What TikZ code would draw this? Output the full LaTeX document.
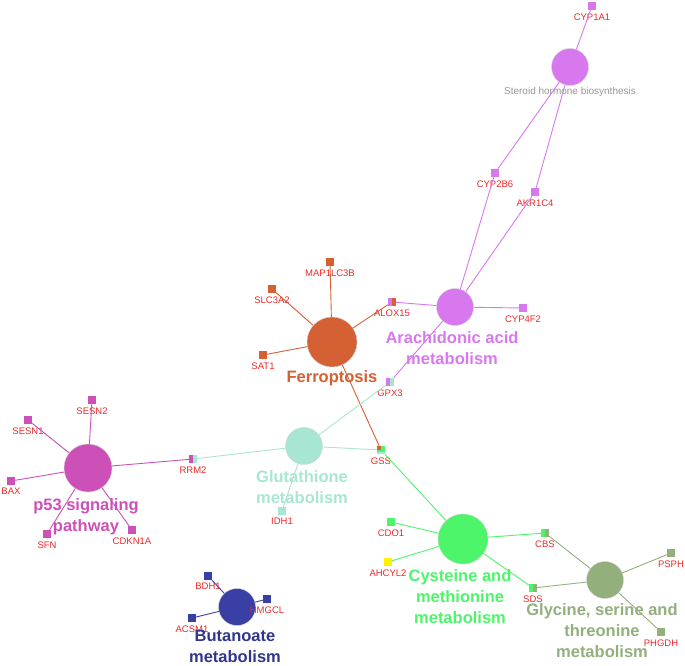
\documentclass[tikz,border=0pt]{standalone}
\usepackage{fontspec}
\setmainfont{Liberation Sans}
\usetikzlibrary{positioning}
\definecolor{violetpw}{RGB}{216,120,238}
\definecolor{orangepw}{RGB}{212,96,52}
\definecolor{magentapw}{RGB}{204,80,184}
\definecolor{tealpw}{RGB}{168,230,212}
\definecolor{greenpw}{RGB}{76,245,106}
\definecolor{olivepw}{RGB}{146,175,124}
\definecolor{bluepw}{RGB}{58,63,165}
\definecolor{genered}{RGB}{238,40,40}
\definecolor{steroidgray}{RGB}{150,150,150}

\begin{document}
\begin{tikzpicture}[x=1pt, y=-1pt, label distance=3pt,
    pathway/.style={circle, draw=gray!35, line width=0.4pt, inner sep=0pt},
    genelabel/.style={font=\fontsize{9.5}{10}\selectfont, text=genered, inner sep=0pt},
    gene/.style={rectangle, minimum size=8pt, inner sep=0pt, label={[genelabel]below:#1}},
    pwlabel/.style={font=\fontsize{16.5}{21}\selectfont\bfseries, align=center, inner sep=0pt},
    link/.style={line width=0.9pt},
    split/.style 2 args={path picture={
        \fill[#1] (path picture bounding box.south west) rectangle (path picture bounding box.north);
        \fill[#2] (path picture bounding box.south) rectangle (path picture bounding box.north east);}}]
    \useasboundingbox (0,0) rectangle (685,665);

    % Pathways
    \node[pathway, fill=violetpw, minimum size=37pt] (steroid) at (570,67) {};
    \node[pathway, fill=violetpw, minimum size=37pt] (arach) at (455,307) {};
    \node[pathway, fill=orangepw, minimum size=50pt] (ferro) at (332,342) {};
    \node[pathway, fill=magentapw, minimum size=48pt] (p53) at (88,468) {};
    \node[pathway, fill=tealpw, minimum size=37pt] (gluta) at (304,446) {};
    \node[pathway, fill=greenpw, minimum size=50pt] (cyst) at (463,539) {};
    \node[pathway, fill=olivepw, minimum size=37pt] (glyc) at (605,580) {};
    \node[pathway, fill=bluepw, minimum size=37pt] (butan) at (237,607) {};

    % Genes
    \node[gene=CYP1A1, fill=violetpw] (cyp1a1) at (592,6) {};
    \node[gene=CYP2B6, fill=violetpw] (cyp2b6) at (495,173) {};
    \node[gene=AKR1C4, fill=violetpw] (akr1c4) at (535,192) {};
    \node[gene=CYP4F2, fill=violetpw] (cyp4f2) at (523,308) {};
    \node[gene=ALOX15, split={violetpw}{orangepw}] (alox15) at (392,302) {};
    \node[gene=GPX3, split={violetpw}{tealpw}] (gpx3) at (390,382) {};
    \node[gene=MAP1LC3B, fill=orangepw] (map1lc3b) at (330,262) {};
    \node[gene=SLC3A2, fill=orangepw] (slc3a2) at (272,289) {};
    \node[gene=SAT1, fill=orangepw] (sat1) at (263,355) {};
    \node[gene=GSS, path picture={
        \fill[greenpw] (path picture bounding box.south west) rectangle (path picture bounding box.north east);
        \fill[orangepw] (path picture bounding box.north west) rectangle (path picture bounding box.center);
        \fill[tealpw] (path picture bounding box.south west) rectangle ([yshift=2.5pt]path picture bounding box.south east);}] (gss) at (381,450) {};
    \node[gene=SESN1, fill=magentapw] (sesn1) at (28,420) {};
    \node[gene=SESN2, fill=magentapw] (sesn2) at (92,400) {};
    \node[gene=BAX, fill=magentapw] (bax) at (11,481) {};
    \node[gene=SFN, fill=magentapw] (sfn) at (47,534) {};
    \node[gene=CDKN1A, fill=magentapw] (cdkn1a) at (132,530) {};
    \node[gene=RRM2, split={magentapw}{tealpw}] (rrm2) at (193,459) {};
    \node[gene=IDH1, fill=tealpw] (idh1) at (282,511) {};
    \node[gene=CDO1, fill=greenpw] (cdo1) at (391,522) {};
    \node[gene=AHCYL2, fill=yellow] (ahcyl2) at (388,562) {};
    \node[gene=CBS, split={greenpw}{olivepw}] (cbs) at (545,533) {};
    \node[gene=SDS, split={greenpw}{olivepw}] (sds) at (533,588) {};
    \node[gene=PSPH, fill=olivepw] (psph) at (671,553) {};
    \node[gene=PHGDH, fill=olivepw] (phgdh) at (661,632) {};
    \node[gene=BDH1, fill=bluepw] (bdh1) at (208,576) {};
    \node[gene=HMGCL, fill=bluepw] (hmgcl) at (267,599) {};
    \node[gene=ACSM1, fill=bluepw] (acsm1) at (192,618) {};

    % Links
    \foreach \g in {cyp1a1, cyp2b6, akr1c4}
        \draw[link, violetpw] (steroid) -- (\g);
    \foreach \g in {cyp2b6, akr1c4, alox15, cyp4f2, gpx3}
        \draw[link, violetpw] (arach) -- (\g);
    \foreach \g in {map1lc3b, slc3a2, sat1, alox15, gss}
        \draw[link, orangepw] (ferro) -- (\g);
    \foreach \g in {gpx3, rrm2, gss, idh1}
        \draw[link, tealpw] (gluta) -- (\g);
    \foreach \g in {sesn1, sesn2, bax, sfn, cdkn1a, rrm2}
        \draw[link, magentapw] (p53) -- (\g);
    \foreach \g in {gss, cdo1, ahcyl2, cbs, sds}
        \draw[link, greenpw] (cyst) -- (\g);
    \foreach \g in {cbs, sds, psph, phgdh}
        \draw[link, olivepw] (glyc) -- (\g);
    \foreach \g in {bdh1, hmgcl, acsm1}
        \draw[link, bluepw] (butan) -- (\g);

    % Pathway names
    \node[font=\fontsize{10}{12}\selectfont, text=steroidgray, inner sep=0pt] (steroidname) at (570,92) {Steroid hormone biosynthesis};
    \node[pwlabel, text=violetpw] (arachname) at (452,348) {Arachidonic acid\\metabolism};
    \node[pwlabel, text=orangepw] (ferroname) at (332,378) {Ferroptosis};
    \node[pwlabel, text=magentapw] (p53name) at (86,517) {p53 signaling\\pathway};
    \node[pwlabel, text=tealpw] (glutaname) at (302,487) {Glutathione\\metabolism};
    \node[pwlabel, text=greenpw] (cystname) at (460,597) {Cysteine and\\methionine\\metabolism};
    \node[pwlabel, text=olivepw] (glycname) at (602,631) {Glycine, serine and\\threonine\\metabolism};
    \node[pwlabel, text=bluepw!85!black] (butanname) at (235,646) {Butanoate\\metabolism};
\end{tikzpicture}
\end{document}
